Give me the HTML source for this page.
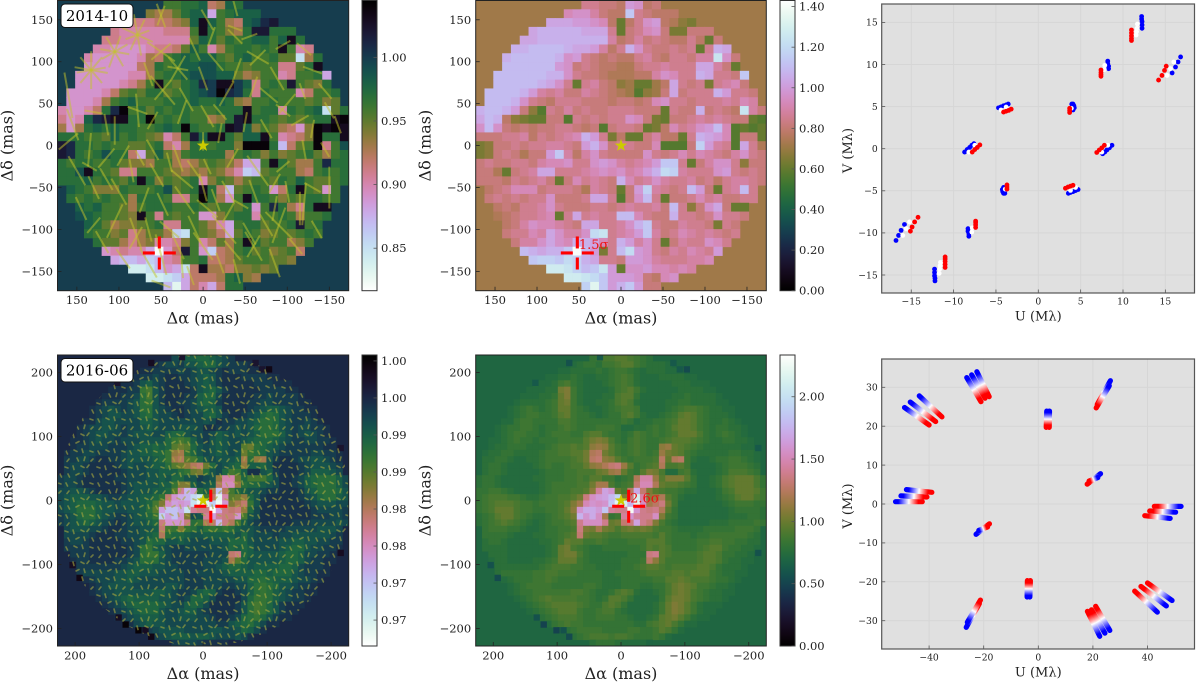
<!DOCTYPE html>
<html lang="en">
<head>
<meta charset="utf-8">
<title>Image reconstruction maps and UV coverage</title>
<style>
html,body{margin:0;padding:0;background:#fff;}
svg{display:block;}
text{font-family:"DejaVu Serif","Liberation Serif",serif;fill:#222;}
</style>
</head>
<body>
<svg id="fig" xmlns="http://www.w3.org/2000/svg" width="1200" height="682" viewBox="0 0 1200 682">
<defs id="defs">
<pattern id="dash-texture" patternUnits="userSpaceOnUse" width="32" height="32">
<g stroke="#a8a83c" stroke-width="1.6" stroke-linecap="round">
<path d="M2 3l1.5 3M10 2l3 1.5M18 1l1 3.5M26 3l3 1M5 11l-2 2.5M13 10l1.5 3M21 9l-1 3.5M29 11l-2 2M1 19l3 1M9 18l1 3.5M17 18l3 1.5M25 17l-2 2.5M4 26l1.5 3M12 27l3-1.5M20 25l1 3.5M28 26l1.5 3"/>
</g>
</pattern>
</defs>
</svg>
<script>
// 2014-10 map: normalised flux x100, one row per declination bin, first column in rowStart2014
const rowStart2014 = [12,10,8,6,5,4,3,3,2,2,1,1,0,0,0,0,0,0,0,0,0,1,1,2,2,3,3,4,5,6,8,10,12];
const flux2014 = [
[96,96,97,97,98,92,93,98,97],
[94,93,93,95,97,98,98,88,96,97,98,98,98],
[91,91,91,92,92,93,94,98,103,98,96,93,92,98,99,101,102],
[91,90,90,90,90,90,91,91,91,96,103,97,96,94,93,97,102,102,97,97,97],
[91,91,90,90,90,90,90,90,90,90,95,98,97,95,97,96,97,98,98,96,98,103,97],
[90,90,89,89,89,89,90,91,91,92,95,98,96,90,93,96,97,97,96,97,96,103,96,90,91],
[90,89,89,89,89,89,90,93,92,96,97,98,97,98,98,96,95,97,98,96,96,97,95,95,85,93,97],
[89,89,89,89,89,89,92,93,97,96,97,98,98,99,99,97,96,96,95,96,96,96,91,91,95,97,103],
[89,89,89,89,89,89,90,90,93,96,97,97,98,99,99,99,98,98,95,93,94,96,96,90,91,96,96,97,88],
[89,89,89,89,89,90,91,93,96,103,96,95,97,98,101,100,103,103,100,98,91,96,97,96,102,96,95,94,97],
[89,89,89,89,90,92,95,96,95,97,97,95,96,97,98,99,100,104,101,100,97,91,97,96,96,96,90,92,96,96,97],
[89,89,89,90,93,96,97,98,96,96,96,97,97,97,98,97,97,98,97,94,93,96,96,97,96,96,96,95,96,94,95],
[90,89,89,90,92,97,101,104,96,97,95,97,96,97,97,96,96,96,97,97,97,103,96,97,97,90,97,96,97,98,85,95,97],
[91,89,90,98,101,102,103,103,97,97,104,96,97,96,97,96,96,93,94,97,102,103,97,97,96,95,96,95,96,97,97,103,104],
[93,89,93,97,98,97,98,97,97,96,96,97,98,97,104,97,96,96,97,103,102,98,94,96,95,93,92,89,94,104,103,104,103],
[97,97,97,96,96,95,98,96,97,96,95,94,90,92,96,102,98,103,103,97,95,98,98,103,96,90,91,92,94,104,97,97,103],
[102,101,97,97,96,97,96,96,95,95,96,97,92,90,93,97,96,96,97,97,94,104,104,104,97,87,92,95,96,104,91,96,99],
[102,101,97,96,97,99,97,97,92,88,95,98,95,93,96,97,97,97,97,93,96,97,96,94,96,94,95,96,97,95,93,96,97],
[97,96,97,97,96,96,97,95,94,94,93,96,96,93,92,93,95,96,95,94,92,88,88,96,103,97,95,93,93,96,101,97,97],
[97,97,99,103,97,96,95,91,91,96,96,96,95,94,93,94,93,95,94,92,90,86,87,95,96,96,96,93,92,96,97,96,97],
[97,97,97,98,96,97,96,95,97,103,97,94,96,95,96,97,90,94,96,95,93,95,96,96,95,97,96,98,96,95,95,96,97],
[98,97,96,94,94,94,97,96,96,96,97,99,95,96,97,103,97,92,87,95,96,97,96,89,92,97,103,96,95,89,96],
[97,96,97,96,97,96,96,93,97,97,97,96,91,91,96,104,97,93,89,96,103,97,97,96,94,96,95,97,97,96,96],
[98,97,98,96,96,95,93,96,97,97,97,96,96,97,96,95,96,96,95,97,89,96,101,97,93,91,97,103,103],
[99,98,97,96,96,95,94,103,96,91,96,95,96,96,89,89,94,96,97,97,90,96,96,97,96,93,96,96,97],
[98,97,95,93,94,94,95,96,97,91,91,96,96,95,93,90,88,96,97,97,95,96,96,97,102,96,97],
[97,96,96,94,95,91,93,95,95,93,86,85,96,95,94,92,88,95,97,96,94,95,96,95,96,97,96],
[97,95,95,93,91,93,94,90,90,91,94,96,90,92,95,93,96,103,97,95,96,96,93,94,96],
[89,90,91,90,90,88,82,89,92,102,96,89,86,92,93,96,97,95,96,94,95,96,92],
[88,87,87,88,86,87,90,91,96,96,97,92,92,93,95,96,96,96,95,95,94],
[84,84,85,87,89,88,85,92,103,93,93,92,94,94,95,94,95],
[84,84,85,86,88,92,92,92,93,97,98,94,93],
[87,83,88,92,90,88,92,97,97]
];
// 2016-06 map: flux deficit in per mille (1 - flux) x 1000
const rowStart2016 = [18,15,13,11,9,8,7,6,5,5,4,3,3,2,2,1,1,1,1,0,0,0,0,0,0,0,0,1,1,1,1,2,2,3,3,4,5,5,6,7,8,9,11,13,15,18];
const deficit2016 = [
[8,9,10,10,11,11,10,9,8,7],
[6,7,8,8,7,9,9,10,11,11,9,8,7,7,7,6],
[6,6,7,7,7,7,8,7,8,9,9,8,7,6,7,7,7,6,6,6],
[6,6,7,7,8,7,6,6,7,7,8,9,10,9,7,6,6,6,7,7,7,7,6,6],
[6,6,6,7,9,10,8,7,6,6,6,7,8,9,10,9,7,6,6,6,6,6,7,7,7,6,6,6],
[6,6,6,7,7,13,14,9,7,6,6,6,6,7,9,10,11,9,7,6,6,6,6,6,7,7,7,7,6,6],
[6,6,6,7,7,8,12,14,9,7,6,6,6,7,7,10,11,11,8,6,6,6,6,6,7,7,8,7,7,7,7,6],
[6,7,7,7,7,8,9,12,13,9,7,6,6,7,7,8,10,11,10,7,6,6,6,6,7,7,8,8,7,7,7,7,6,6],
[6,7,8,9,8,7,8,9,12,12,9,8,7,6,6,7,8,9,10,10,9,6,6,6,6,7,8,9,10,10,9,8,7,7,6,6],
[6,7,8,9,9,8,8,9,11,12,9,8,8,7,6,7,8,8,10,11,9,7,6,6,7,8,9,11,12,11,9,8,7,7,7,6],
[6,6,8,9,9,8,8,8,8,10,10,9,8,8,8,8,8,8,8,9,8,6,7,7,8,8,9,10,12,12,11,9,8,7,7,8,7,6],
[6,7,8,8,9,9,8,7,8,8,9,10,9,8,8,8,9,9,9,8,6,6,7,7,8,9,8,9,11,12,12,11,9,8,7,8,8,7,7,6],
[6,7,8,9,9,8,8,7,8,9,9,9,8,8,10,11,11,9,8,8,7,8,10,9,8,9,8,9,10,12,12,12,10,8,7,8,9,8,7,6],
[6,6,7,8,9,8,8,7,8,8,8,9,9,9,9,11,13,14,13,10,8,7,9,10,9,8,8,9,10,11,11,11,10,9,8,7,7,8,8,7,7,6],
[6,7,7,8,8,8,7,7,7,8,9,10,10,11,10,11,15,16,15,11,9,8,9,10,9,8,8,15,16,12,11,10,9,8,7,7,7,7,7,7,6,6],
[6,7,7,8,8,7,7,7,7,8,9,9,10,10,11,11,13,18,19,13,11,9,8,9,10,9,8,9,16,13,12,11,9,8,7,7,7,7,7,8,8,7,7,6],
[7,7,8,8,7,6,6,7,7,8,9,9,9,9,10,11,13,19,20,15,14,11,9,8,9,9,9,10,19,12,18,19,9,7,6,6,7,8,8,9,9,8,7,6],
[7,8,8,7,6,6,6,6,7,8,9,8,8,9,10,10,12,15,16,18,20,21,16,11,8,9,10,11,18,10,10,11,9,6,6,6,6,7,8,9,9,9,8,7],
[7,8,8,7,6,6,6,6,6,7,8,8,8,9,9,10,10,10,12,13,16,17,12,9,8,11,14,13,10,6,6,9,10,7,6,6,6,7,8,10,10,10,9,8],
[7,8,8,7,6,6,6,6,6,7,7,8,8,8,9,9,10,9,11,11,9,9,7,8,9,18,24,24,16,11,14,14,14,11,8,6,6,7,8,10,11,12,12,12,10,8],
[7,8,8,7,6,6,6,6,6,6,7,8,9,9,9,9,10,10,13,17,17,10,8,9,10,20,25,25,18,12,11,11,10,9,8,6,6,7,8,10,11,12,12,12,10,8],
[8,8,9,9,8,7,6,6,6,6,7,8,9,9,9,10,10,11,15,23,29,27,12,10,19,30,20,14,11,10,9,9,8,7,7,6,6,6,7,9,10,12,12,12,11,9],
[8,9,10,10,10,9,9,8,7,7,8,9,9,10,10,11,13,21,26,28,29,32,34,14,21,36,24,15,16,18,11,9,7,6,6,6,6,6,7,8,9,11,12,12,10,9],
[8,9,10,11,11,11,10,9,9,8,9,9,9,10,11,14,17,25,27,26,27,33,37,36,31,37,26,17,19,21,13,9,6,6,6,6,6,6,6,7,8,9,9,9,8,8],
[8,9,10,12,12,12,10,9,9,8,8,9,9,10,12,15,27,30,30,28,33,23,22,22,38,27,22,21,22,18,11,8,6,6,6,6,6,6,6,6,7,8,8,8,8,7],
[7,8,9,11,12,12,10,9,8,7,7,8,9,10,11,13,31,27,30,26,17,8,9,23,27,23,22,22,26,14,9,8,6,6,6,6,6,6,6,6,7,7,7,8,8,7],
[7,8,9,10,11,10,9,8,7,6,7,8,9,9,10,11,22,26,26,26,22,12,13,20,21,29,22,20,14,10,8,7,6,6,6,6,6,7,7,7,8,8,8,8,9,8],
[8,9,9,9,8,8,7,6,6,7,8,8,9,9,10,21,14,13,17,13,12,10,12,13,12,13,12,10,9,9,8,7,7,7,7,8,8,8,8,8,9,9,9,8],
[8,8,8,8,7,6,6,6,7,7,8,8,9,10,11,20,12,11,11,10,9,9,10,10,10,10,10,9,11,9,8,8,8,7,8,8,9,9,9,9,9,9,8,7],
[7,8,8,7,6,6,6,6,6,7,7,8,9,12,11,11,9,9,10,9,8,8,8,9,9,9,11,11,11,9,8,8,8,8,9,9,10,10,9,9,8,8,7,7],
[7,7,7,7,6,6,6,6,6,6,7,8,12,13,10,9,8,7,7,8,8,8,8,8,8,9,11,10,11,10,8,8,8,8,9,10,11,11,9,8,8,7,7,6],
[7,7,7,6,6,6,6,6,6,7,8,12,13,13,10,8,7,7,7,7,7,7,8,8,8,21,22,11,10,9,9,9,9,10,11,11,10,8,8,7,7,6],
[6,7,7,6,6,6,6,7,7,8,9,12,12,12,9,8,7,7,7,7,7,8,8,8,9,19,15,11,9,9,9,9,9,10,11,11,10,8,7,7,6,6],
[7,7,7,7,7,7,7,8,9,10,10,10,9,9,8,8,7,7,7,7,8,8,9,10,11,11,10,9,10,10,10,10,11,11,10,8,7,7,7,6],
[7,8,8,8,8,8,9,9,10,10,9,9,9,8,8,8,8,7,7,8,8,8,8,9,10,10,10,10,11,11,10,11,11,11,9,8,7,7,6,6],
[6,7,8,8,8,9,9,10,9,8,8,8,8,8,8,8,7,7,7,8,8,8,8,8,9,9,11,11,12,11,10,10,10,9,8,8,7,6],
[6,7,8,9,9,9,9,8,8,8,8,8,9,9,8,7,7,7,8,8,8,7,7,8,8,10,12,13,12,11,9,9,8,7,7,6],
[6,7,8,8,9,9,9,9,9,9,10,10,9,8,7,7,8,10,11,10,7,6,6,7,8,10,12,13,12,10,9,8,7,7,6,6],
[6,7,8,9,10,11,10,10,10,10,9,9,8,7,8,11,11,10,8,6,6,6,6,8,11,13,13,12,10,9,8,7,7,6],
[6,7,8,9,10,11,11,11,11,10,9,8,8,10,11,10,8,6,6,6,6,7,9,12,14,13,11,9,7,6,6,6],
[6,7,8,9,10,11,11,11,9,8,8,9,10,10,8,7,6,6,6,6,7,9,12,14,13,11,9,7,6,6],
[6,7,8,9,10,10,10,9,8,8,9,9,9,8,8,7,6,6,7,8,11,12,13,11,9,7,6,6],
[6,8,9,10,9,9,8,8,8,8,8,8,8,8,7,7,9,10,11,12,10,8,6,6],
[6,7,8,9,9,9,9,8,8,8,8,9,9,8,8,9,11,10,8,6],
[7,8,9,10,10,10,9,10,10,9,8,8,8,9,8,6],
[7,8,8,8,7,6,6,6,6,5]
];
// Isolated dark pixels just outside the 2016 disk
const edgeAlpha = [121,101,90,81,132,204,193,81,33,-82,-103,-92,-215,-215,134];
const edgeDelta = [-194,-203,-203,-213,-183,-101,-121,215,224,215,205,205,82,-82,184];
const edgeDeficit = [0,0,2,1,2,2,1,2,3,3,1,3,3,2,3];
// 2014 vectors: centre (mas), length (mas), position angle (deg)
const stickAlpha = [133,133,133,133,133,105,105,105,105,78,78,78,78,50,50,50,50,160,155,30,30,30,48,48,78,78,-5,10,-38,-38,-40,-38,-65,-65,-55,0,-28,-88,-100,-95,-130,-118,-145,-150,-5,-50,-78,-115,-160,25,105,130,160,135,95,60,30,0,-35,-65,-95,-120,-145,-150,-120,-85,-60,-30,0,25,55,85,115,150,130,100,70,48,22,-5,-30,-45,-85,-115,-90,-90,-55,-25,10,40,80,105,120,145,130,80,50,65,25,0,-20,-60,-60,-85,-110,-40,50,-130,-20,-5,75,135,-120,-95,-15,65,20,-60,-75,-130,115,40,10,-15,-100,-135,95,30,-35,15,-75,-10,115,60,-20,65];
const stickDelta = [90,90,90,90,90,112,112,112,112,132,132,132,132,155,155,112,112,60,25,92,92,92,66,66,42,42,150,115,165,130,90,140,105,105,130,80,62,80,50,42,90,65,65,42,35,28,60,30,25,40,18,40,5,-5,-12,-5,-15,5,-15,-30,-25,-5,-5,-50,-70,-45,-55,-55,-50,-40,-35,-30,-15,-30,-50,-55,-65,-70,-65,-75,-80,-70,-75,-75,-95,-95,-105,-100,-100,-100,-105,-90,-115,-75,-95,-110,-130,-140,-145,-120,-140,-120,-120,-140,-120,-150,-165,-50,15,-25,-15,-25,115,120,100,85,55,70,20,20,-40,-20,-30,-65,-55,-100,-135,-120,-125,-155,-95,130,25,30,40,-100];
const stickLength = [40,40,45,40,35,35,40,40,35,40,50,40,30,30,25,40,30,55,40,35,35,25,45,30,40,25,28,30,22,24,30,18,30,26,20,30,34,32,30,22,24,20,24,22,30,24,28,24,22,30,34,22,30,40,28,28,34,22,26,44,20,24,20,50,50,26,30,30,34,34,32,28,30,40,30,36,32,30,40,32,28,20,30,40,45,45,30,44,36,30,40,44,30,30,24,30,50,40,26,40,26,40,30,36,24,30,24,22,24,20,20,20,22,20,28,30,32,26,26,22,30,24,30,28,26,24,28,34,30,24,30,24,26,24,24,30];
const stickAngle = [10,50,90,130,170,10,60,110,150,25,80,115,160,70,110,35,140,80,70,50,120,10,50,130,85,20,60,65,75,45,110,20,30,135,160,70,120,60,130,40,20,70,50,60,60,100,40,150,70,110,90,10,140,95,120,60,70,90,120,55,140,80,60,90,95,120,70,60,75,40,60,80,130,60,65,60,110,65,55,40,120,30,100,90,45,110,60,50,65,40,70,115,60,65,130,120,75,60,85,55,70,60,120,70,50,75,20,30,100,65,60,30,40,150,50,70,60,110,60,100,60,75,55,70,80,60,55,65,50,70,60,110,80,120,50,75];
// Tick labels
const tickMas2014 = [150,100,50,0,-50,-100,-150];
const tickMas2016 = [200,100,0,-100,-200];
const cbarFlux2014 = [1.00,0.95,0.90,0.85];
const cbarSigma2014 = [1.40,1.20,1.00,0.80,0.60,0.40,0.20,0.00];
const cbarFlux2016 = [1.000,0.995,0.990,0.985,0.980,0.975,0.970,0.965];
const cbarFluxLabels2016 = ["1.00","1.00","0.99","0.99","0.98","0.98","0.97","0.97"];
const cbarSigma2016 = [2.00,1.50,1.00,0.50,0.00];
const uvTicks2014 = [-15,-10,-5,0,5,10,15];
const uvTicksU2016 = [-40,-20,0,20,40];
const uvTicksV2016 = [-30,-20,-10,0,10,20,30];
// 2014 UV samples, half plane (the conjugate points are drawn as well)
const blueU = [16.8,16.5,16.2,15.8,12.2,12.2,12.25,12.25,12.25,8.2,8.2,8.3,8.3,3.95,4.1,4.2,4.25,4.1,-4.7,-4.4,-4.1,-3.8,-3.55,-8.7,-8.4,-8.1,-7.85,-7.6];
const blueV = [10.9,10.3,9.7,9.0,15.7,15.4,15.1,14.7,14.3,10.4,10.1,9.8,9.5,5.3,5.3,5.1,4.85,4.6,4.85,4.97,5.1,5.2,5.3,-0.4,-0.1,0.15,0.4,0.6];
const whiteU = [16,15.6,15.2,11.7,11.65,11.6,11.55,7.85,7.8,3.9,-4.4,-3.8,-8.2,-7.5];
const whiteV = [10.3,9.5,8.7,14.8,14.3,13.9,13.5,9.9,9.4,4.8,4.6,4.95,-0.4,0.4];
const redU = [15.1,14.9,14.6,14.2,11,11,11,11,11,7.4,7.4,7.4,7.4,3.7,3.7,3.7,-4.1,-3.8,-3.5,-3.2,-7.8,-7.5,-7.2,-6.9];
const redV = [9.8,9.3,8.7,8.15,14.1,13.75,13.4,13.1,12.85,9.35,9.05,8.8,8.6,4.8,4.55,4.3,4.35,4.45,4.55,4.7,-0.4,-0.1,0.15,0.45];
// 2016 UV tracks, half plane: short wavelength end and long wavelength end
const trackBlueU = [26.4,26,3.1,4.1,22.8,21.8,52.3,50.3,48.3,49,46.9,43.6,22.5,24.4,26.2];
const trackBlueV = [31.7,30.4,23.9,23.9,7.8,6.8,-0.6,-2.1,-3.7,-24.8,-26.2,-27.8,-34,-33.2,-32.5];
const trackRedU = [21.6,21.2,2.9,4,17.9,18.6,42.5,40.8,39,40,37.6,35.3,18,19.5,21];
const trackRedV = [25.6,24.7,19.7,19.7,5.1,5.9,-0.6,-1.8,-3,-20.3,-21.2,-22.4,-27.6,-27.2,-26.3];

const NS = 'http://www.w3.org/2000/svg';
const svg = document.getElementById('fig');
const defs = document.getElementById('defs');
function el(tag, attrs, parent) {
  const n = document.createElementNS(NS, tag);
  for (const k in attrs) n.setAttribute(k, attrs[k]);
  (parent || svg).appendChild(n);
  return n;
}
function cubehelix(x) {
  x = Math.max(0, Math.min(1, x));
  const a = x * (1 - x) / 2, p = 2 * Math.PI * (0.5 / 3 - 1.5 * x), c = Math.cos(p), s = Math.sin(p);
  const f = v => Math.round(255 * Math.max(0, Math.min(1, v)));
  return `rgb(${f(x + a * (-0.14861 * c + 1.78277 * s))},${f(x + a * (-0.29227 * c - 0.90649 * s))},${f(x + a * 1.97294 * c)})`;
}
const fmt = v => String(v).replace('-', '\u2212');
function tickText(x, y, str, anchor, size) {
  const t = el('text', {x: x, y: y, 'text-anchor': anchor, 'font-size': size});
  t.textContent = str;
  
  
  return t;
}
function axisLabels(xlabel, ylabel, cx, xy, lx, cy, size) {
  const a = el('text', {x: cx, y: xy, 'text-anchor': 'middle', 'font-size': size});
  a.textContent = xlabel;
  
  
  const b = el('text', {x: lx, y: cy, 'text-anchor': 'middle', 'font-size': size, transform: `rotate(-90 ${lx} ${cy})`});
  b.textContent = ylabel;
  
  
}
let clipId = 0;
function drawMap(p) {
  const w = p.x1 - p.x0, h = p.y1 - p.y0, cw = w / p.rows0, ch = h / p.rows0;
  const sx = a => p.x0 + (p.lim - a) / (2 * p.lim) * w;
  const sy = d => p.y0 + (p.lim - d) / (2 * p.lim) * h;
  const id = 'clip' + (++clipId);
  const cp = el('clipPath', {id: id}, defs);
  el('rect', {x: p.x0, y: p.y0, width: w, height: h}, cp);
  const g = el('g', {'clip-path': `url(#${id})`});
  
  
  const bg = el('rect', {x: p.x0, y: p.y0, width: w, height: h, fill: cubehelix(p.colorX(p.bg))}, g);
  
  
  p.data.forEach((row, j) => {
    row.forEach((v, n) => {
      const r = el('rect', {x: (p.x0 + (p.starts[j] + n) * cw).toFixed(2), y: (p.y0 + j * ch).toFixed(2), width: (cw + 0.4).toFixed(2), height: (ch + 0.4).toFixed(2), fill: cubehelix(p.colorX(v))}, g);
      
      
    });
  });
  if (p.edge) {
    edgeAlpha.forEach((a, n) => {
      const r = el('rect', {x: sx(a) - cw / 2, y: sy(edgeDelta[n]) - ch / 2, width: cw, height: ch, fill: cubehelix(p.colorX(edgeDeficit[n]))}, g);
      
      
    });
  }
  if (p.sticks) {
    stickAlpha.forEach((a, n) => {
      const th = stickAngle[n] * Math.PI / 180, L = stickLength[n] / 2;
      const l = el('line', {x1: sx(a - L * Math.cos(th)), y1: sy(stickDelta[n] - L * Math.sin(th)), x2: sx(a + L * Math.cos(th)), y2: sy(stickDelta[n] + L * Math.sin(th)), stroke: '#c4c42a', 'stroke-opacity': 0.5, 'stroke-width': 2}, g);
      
      
    });
  }
  if (p.dashes) {
    const c = el('circle', {cx: sx(0), cy: sy(0), r: 146, fill: 'url(#dash-texture)', opacity: 0.6}, g);
    
    
  }
  // star
  const pts = [];
  for (let k = 0; k < 10; k++) {
    const r = k % 2 ? 2.6 : 6.6, t = -Math.PI / 2 + k * Math.PI / 5;
    pts.push((sx(0) + r * Math.cos(t)).toFixed(1) + ',' + (sy(0) + r * Math.sin(t)).toFixed(1));
  }
  const star = el('polygon', {points: pts.join(' '), fill: '#cccc00'}, g);
  
  
  if (p.sigma) {
    const t = el('text', {x: sx(p.cross[0]) + 1.5, y: sy(p.cross[1]) - 4, 'font-size': 13});
    t.style.fill = '#f01010';
    t.textContent = p.sigma;
    
    
    g.appendChild(t);
  }
  const cx = sx(p.cross[0]), cy = sy(p.cross[1]);
  [[-16.5, 0, -4.5, 0], [4.5, 0, 16.5, 0], [0, -16.5, 0, -4.5], [0, 4.5, 0, 16.5]].forEach(s => {
    const l = el('line', {x1: cx + s[0], y1: cy + s[1], x2: cx + s[2], y2: cy + s[3], stroke: '#ff0000', 'stroke-width': 3.1}, g);
    
    
  });
  // ticks
  p.ticks.forEach(v => {
    const t1 = el('line', {x1: sx(v), x2: sx(v), y1: p.y1, y2: p.y1 - 4, stroke: '#222', 'stroke-width': 0.8});
    
    
    const t2 = el('line', {x1: p.x0, x2: p.x0 + 4, y1: sy(v), y2: sy(v), stroke: '#222', 'stroke-width': 0.8});
    
    
    tickText(sx(v), p.y1 + 13.5, fmt(v), 'middle', 11.5);
    tickText(p.x0 - 4.5, sy(v) + 4, fmt(v), 'end', 11.5);
  });
  const fr = el('rect', {x: p.x0, y: p.y0, width: w, height: h, fill: 'none', stroke: '#222', 'stroke-width': 1});
  
  
  axisLabels('\u0394\u03b1 (mas)', '\u0394\u03b4 (mas)', (p.x0 + p.x1) / 2, p.y1 + 33, p.x0 - 45, (p.y0 + p.y1) / 2, 16);
  if (p.label) {
    const b = el('rect', {x: p.x0 + 3.5, y: p.y0 + 3.5, width: 72, height: 23.5, rx: 4, fill: '#fff', stroke: '#111', 'stroke-width': 1});
    
    
    const t = el('text', {x: p.x0 + 39.5, y: p.y0 + 20.5, 'text-anchor': 'middle', 'font-size': 15});
    t.style.fill = '#000';
    t.textContent = p.label;
    
    
  }
}
function drawColorbar(c) {
  const id = 'grad' + (++clipId);
  const gr = el('linearGradient', {id: id, x1: 0, y1: 1, x2: 0, y2: 0}, defs);
  for (let k = 0; k <= 50; k++) el('stop', {offset: k / 50, 'stop-color': cubehelix(c.reverse ? 1 - k / 50 : k / 50)}, gr);
  const r = el('rect', {x: c.x0, y: c.y0, width: c.x1 - c.x0, height: c.y1 - c.y0, fill: `url(#${id})`, stroke: '#333', 'stroke-width': 1});
  
  
  const sy = v => c.y1 - (v - c.min) / (c.max - c.min) * (c.y1 - c.y0);
  c.ticks.forEach((v, n) => {
    const t = el('line', {x1: c.x1, x2: c.x1 - 3.5, y1: sy(v), y2: sy(v), stroke: '#555', 'stroke-width': 0.8});
    
    
    tickText(c.x1 + 4, sy(v) + 4, c.labels ? c.labels[n] : v.toFixed(2), 'start', 11.5);
  });
}
function drawUV(p) {
  const w = p.x1 - p.x0, h = p.y1 - p.y0;
  const sx = u => p.ox + u * p.kx;
  const sy = v => p.oy - v * p.ky;
  const bg = el('rect', {x: p.x0, y: p.y0, width: w, height: h, fill: '#e0e0e0'});
  
  
  p.xt.forEach(v => {
    const g = el('line', {x1: sx(v), x2: sx(v), y1: p.y0, y2: p.y1, stroke: '#d6d6d6', 'stroke-width': 1});
    
    
    const t = el('line', {x1: sx(v), x2: sx(v), y1: p.y1, y2: p.y1 - 3.5, stroke: '#555', 'stroke-width': 0.8});
    
    
    tickText(sx(v), p.y1 + 11.5, fmt(v), 'middle', 9.2);
  });
  p.yt.forEach(v => {
    const g = el('line', {x1: p.x0, x2: p.x1, y1: sy(v), y2: sy(v), stroke: '#d6d6d6', 'stroke-width': 1});
    
    
    const t = el('line', {x1: p.x0, x2: p.x0 + 3.5, y1: sy(v), y2: sy(v), stroke: '#555', 'stroke-width': 0.8});
    
    
    tickText(p.x0 - 4, sy(v) + 3.3, fmt(v), 'end', 9.2);
  });
  if (p.points) {
    [[blueU, blueV, '#0000ff', 'uv-point-blue'], [whiteU, whiteV, '#ffffff', 'uv-point-white'], [redU, redV, '#ff0000', 'uv-point-red']].forEach(s => {
      s[0].forEach((u, n) => {
        [1, -1].forEach(sign => {
          const c = el('circle', {cx: sx(sign * u), cy: sy(sign * s[1][n]), r: 2.4, fill: s[2]});
          
          
        });
      });
    });
  } else {
    trackBlueU.forEach((u, n) => {
      [1, -1].forEach(sign => {
        const id = 'trk' + (++clipId);
        const x1 = sx(sign * u), y1 = sy(sign * trackBlueV[n]), x2 = sx(sign * trackRedU[n]), y2 = sy(sign * trackRedV[n]);
        const gr = el('linearGradient', {id: id, gradientUnits: 'userSpaceOnUse', x1: x1, y1: y1, x2: x2, y2: y2}, defs);
        el('stop', {offset: 0.1, 'stop-color': '#0000ff'}, gr);
        el('stop', {offset: 0.5, 'stop-color': '#ffffff'}, gr);
        el('stop', {offset: 0.85, 'stop-color': '#ff0000'}, gr);
        const l = el('line', {x1: x1, y1: y1 + 0.01, x2: x2 + 0.01, y2: y2, stroke: `url(#${id})`, 'stroke-width': 5.2, 'stroke-linecap': 'round'});
        
        
      });
    });
  }
  const fr = el('rect', {x: p.x0, y: p.y0, width: w, height: h, fill: 'none', stroke: '#555', 'stroke-width': 1.2});
  
  
  axisLabels('U (M\u03bb)', 'V (M\u03bb)', p.ox, p.y1 + 27.5, 852, (p.y0 + p.y1) / 2 + 2, 13);
}
// Colour position of each panel: value -> 0..1 along the cubehelix map
const ratioX2014 = v => (104.47 - v) / 22.81;
const sigmaX2014 = v => { const x = ratioX2014(v); return 0.5 + 0.56 * (x - 0.2) + Math.max(0, x - 0.9) * 0.5; };
const ratioX2016 = k => (k + 0.8) / 39.3;
const sigmaX2016 = k => { const x = ratioX2016(k); return 0.3 + 0.68 * (x - 0.15) + Math.max(0, x - 0.85) * 0.8; };
const TOP = {y0: 0.5, y1: 290.7}, BOT = {y0: 355, y1: 646};
drawMap({name: 'flux-map-2014', x0: 57.5, x1: 348.7, y0: TOP.y0, y1: TOP.y1, lim: 173, rows0: 33, data: flux2014, starts: rowStart2014, bg: 99.9, colorX: ratioX2014, sticks: true, ticks: tickMas2014, cross: [52, -128], label: '2014-10'});
drawMap({name: 'significance-map-2014', x0: 475.7, x1: 766.3, y0: TOP.y0, y1: TOP.y1, lim: 173, rows0: 33, data: flux2014, starts: rowStart2014, bg: 99.9, colorX: sigmaX2014, ticks: tickMas2014, cross: [52, -128], sigma: '1.5\u03c3'});
drawMap({name: 'flux-map-2016', x0: 57.5, x1: 348.7, y0: BOT.y0, y1: BOT.y1, lim: 227.5, rows0: 46, data: deficit2016, starts: rowStart2016, bg: 5.1, colorX: ratioX2016, edge: true, dashes: true, ticks: tickMas2016, cross: [-12, -9], label: '2016-06'});
drawMap({name: 'significance-map-2016', x0: 475.7, x1: 766.3, y0: BOT.y0, y1: BOT.y1, lim: 227.5, rows0: 46, data: deficit2016, starts: rowStart2016, bg: 5.1, colorX: sigmaX2016, edge: true, ticks: tickMas2016, cross: [-12, -9], sigma: '2.6\u03c3'});
drawColorbar({x0: 362, x1: 377, y0: TOP.y0, y1: TOP.y1, min: 0.8166, max: 1.0447, reverse: true, ticks: cbarFlux2014});
drawColorbar({x0: 780, x1: 795, y0: TOP.y0, y1: TOP.y1, min: 0, max: 1.43, ticks: cbarSigma2014});
drawColorbar({x0: 362, x1: 377, y0: BOT.y0, y1: BOT.y1, min: 0.9615, max: 1.0008, reverse: true, ticks: cbarFlux2016, labels: cbarFluxLabels2016});
drawColorbar({x0: 780, x1: 795, y0: BOT.y0, y1: BOT.y1, min: 0, max: 2.335, ticks: cbarSigma2016});
drawUV({x0: 881.7, x1: 1194.5, y0: 4, y1: 293, ox: 1038.3, oy: 148.7, kx: 8.47, ky: 8.42, xt: uvTicks2014, yt: uvTicks2014, points: true});
drawUV({x0: 881.7, x1: 1194.5, y0: 359, y1: 649, ox: 1038.3, oy: 504, kx: 2.73, ky: 3.89, xt: uvTicksU2016, yt: uvTicksV2016, points: false});
</script>
</body>
</html>
